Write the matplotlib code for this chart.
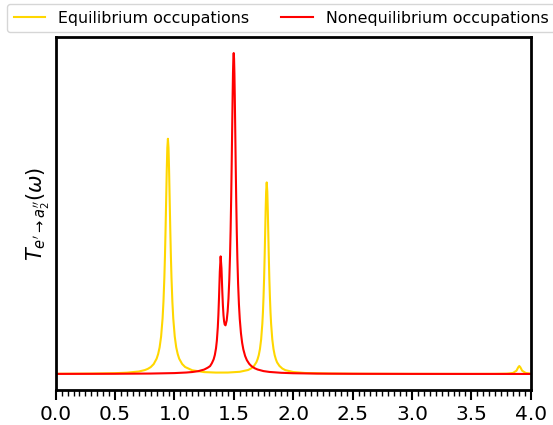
import matplotlib
matplotlib.use("Agg")
import matplotlib.pyplot as plt
from matplotlib.ticker import MultipleLocator

# Equilibrium occupations (yellow)
eq_omega = [0.0, 0.3, 0.5, 0.6, 0.7, 0.75, 0.775, 0.8, 0.825, 0.85, 0.8625, 0.875,
            0.8875, 0.9, 0.9075, 0.915, 0.92, 0.925, 0.93, 0.935, 0.94, 0.945,
            0.95, 0.955, 0.96, 0.965, 0.97, 0.975, 0.9825, 0.99, 1.0025, 1.015,
            1.0275, 1.04, 1.065, 1.09, 1.15, 1.25, 1.35, 1.45, 1.55, 1.62, 1.645,
            1.67, 1.69, 1.70, 1.71, 1.72, 1.73, 1.74, 1.745, 1.75, 1.755, 1.76,
            1.764, 1.768, 1.772, 1.777, 1.782, 1.786, 1.790, 1.794, 1.799, 1.804,
            1.809, 1.814, 1.824, 1.834, 1.844, 1.854, 1.864, 1.884, 1.909, 1.934,
            2.0, 2.1, 2.3, 2.6, 3.0, 3.5, 3.7, 3.8, 3.85, 3.88, 3.895, 3.904,
            3.913, 3.928, 3.958, 4.0]
eq_T = [0.19, 0.40, 0.80, 1.31, 2.5, 3.9, 5.1, 6.9, 9.9, 15.4, 19.9, 26.7,
        37.5, 55.7, 72.6, 96.7, 118.0, 143.9, 173.5, 203.4, 226.9, 236.0,
        226.9, 203.4, 173.5, 143.9, 118.0, 96.7, 72.6, 55.7, 37.6, 26.7,
        20.0, 15.3, 10.0, 7.0, 3.7, 1.9, 1.41, 1.45, 2.2, 4.0, 5.5,
        8.1, 11.8, 14.8, 18.9, 25.1, 34.7, 50.3, 61.6, 76.8, 96.0, 120.4,
        142.3, 164.6, 182.7, 192.2, 182.7, 164.6, 142.3, 120.4, 96.0, 76.8,
        61.6, 50.3, 34.6, 25.1, 18.9, 14.8, 11.7, 8.1, 5.4, 3.85,
        1.98, 1.0, 0.43, 0.19, 0.10, 0.074, 0.12, 0.33, 1.0, 3.3, 6.7, 8.0,
        6.7, 3.3, 1.0, 0.37]

# Nonequilibrium occupations (red)
neq_omega = [0.0, 0.5, 0.8, 1.0, 1.1, 1.15, 1.2, 1.25, 1.28, 1.3, 1.315, 1.33,
             1.34, 1.35, 1.357, 1.365, 1.37, 1.375, 1.382, 1.389, 1.396, 1.403,
             1.408, 1.413, 1.418, 1.423, 1.43, 1.44, 1.448, 1.455, 1.462, 1.468,
             1.473, 1.478, 1.482, 1.486, 1.49, 1.493, 1.496, 1.499, 1.502, 1.505,
             1.508, 1.512, 1.516, 1.52, 1.525, 1.53, 1.536, 1.543, 1.55, 1.56,
             1.57, 1.58, 1.595, 1.61, 1.63, 1.65, 1.675, 1.7, 1.75, 1.8, 1.9,
             2.0, 2.2, 2.5, 3.0, 3.5, 4.0]
neq_T = [0.09, 0.21, 0.44, 0.90, 1.47, 1.97, 2.82, 4.43, 6.3, 7.9, 10.8, 14.7,
         19.0, 25.8, 33.3, 46.8, 59.3, 75.8, 102.7, 118.0, 106.0, 82.5,
         68.7, 59.0, 52.9, 49.7, 48.8, 53.7, 62.9, 75.8, 95.0, 118.5,
         144.8, 178.2, 210.3, 245.5, 280.1, 302.0, 316.8, 322.0, 316.5, 301.4,
         279.2, 244.2, 208.6, 176.0, 142.0, 115.1, 90.5, 69.9, 55.2, 40.9,
         31.3, 24.7, 18.1, 13.8, 10.1, 7.7, 5.8, 4.5, 2.9, 2.05, 1.18,
         0.76, 0.39, 0.20, 0.09, 0.05, 0.03]

labels = ["Equilibrium occupations", "Nonequilibrium occupations"]
colors = ["#FFD700", "#FF0000"]
xticks = [0.0, 0.5, 1.0, 1.5, 2.0, 2.5, 3.0, 3.5, 4.0]

fig = plt.figure(figsize=(5.53, 4.25), dpi=100)
ax = fig.add_axes([55.7 / 553, 1 - 390 / 425, (530.7 - 55.7) / 553, (390 - 37) / 425])

ax.plot(eq_omega, eq_T, color=colors[0], lw=1.5, label=labels[0])
ax.plot(neq_omega, neq_T, color=colors[1], lw=1.5, label=labels[1])

ax.set_xlim(0.0, 4.0)
ax.set_xticks(xticks)
ax.set_xticklabels([f"{t:.1f}" for t in xticks])
ax.xaxis.set_minor_locator(MultipleLocator(0.05))
ax.set_yticks([])
ax.tick_params(axis="x", which="major", length=7, width=1.5, labelsize=14.5, pad=4)
ax.tick_params(axis="x", which="minor", length=4, width=1.0)
for s in ax.spines.values():
    s.set_linewidth(2)

ax.set_ylabel(r"$T_{e'\to a_2''}(\omega)$", fontsize=15, labelpad=3)

fig.legend(loc="upper left", bbox_to_anchor=(7.3 / 553, 1 - 4.3 / 425), ncol=2,
           fontsize=11.45, frameon=True, borderaxespad=0.0)

fig.savefig("out.png", dpi=100)
